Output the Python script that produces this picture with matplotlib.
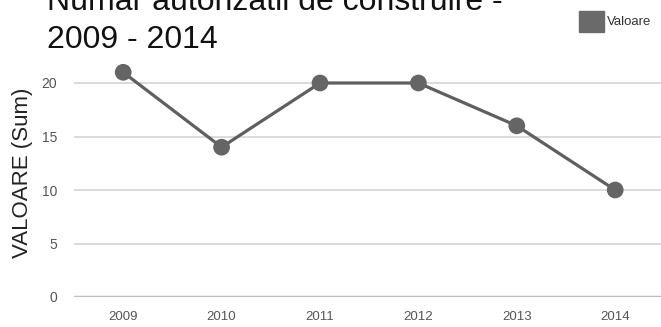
import numpy as np
import matplotlib
matplotlib.use('Agg')
import matplotlib.pyplot as plt
from matplotlib.patches import Rectangle

years = ['2009', '2010', '2011', '2012', '2013', '2014']
values = [21, 14, 20, 20, 16, 10]
y_ticks = [0, 5, 10, 15, 20]

W, H = 661, 327
fig = plt.figure(figsize=(W / 100, H / 100), dpi=100)

# axes box in pixel coordinates
left, right = 74, 661
bottom, top = 297, 62
ax = fig.add_axes([left / W, 1 - bottom / H, (right - left) / W, (bottom - top) / H])

x = np.arange(len(years))
step = 98.4
ax.set_xlim(-0.5, -0.5 + (right - left) / step)
ax.set_ylim(0, 5 * (bottom - top) / 53.5)

for t in y_ticks:
    if t == 0:
        ax.axhline(t, color='#bdbdbd', lw=2.5, zorder=1)
    else:
        ax.axhline(t, color='#d4d4d4', lw=1.2, zorder=1)

ax.plot(x, values, color='#5f5f5f', lw=2.3, zorder=2)
ax.scatter(x, values, s=145, color='#656565', zorder=3, edgecolors='none')

ax.set_xticks(x)
ax.set_xticklabels(years)
ax.set_yticks(y_ticks)
ax.tick_params(length=0, labelsize=10, labelcolor='#555555')
for lab in ax.get_xticklabels() + ax.get_yticklabels():
    lab.set_family('Liberation Sans')
ax.tick_params(axis='x', labelsize=9.5, pad=10)
ax.tick_params(axis='y', pad=12)
for s in ax.spines.values():
    s.set_visible(False)

ax.set_ylabel('VALOARE (Sum)', fontsize=16, family='Liberation Sans', color='#222222')
ax.yaxis.set_label_coords(-(left - 33) / (right - left), (bottom - 173) / (bottom - top),
                          transform=ax.transAxes)

fig.text(47 / W, 1 - 10 / H, 'Numar autorizatii de construire -', fontsize=23,
         family='Liberation Sans', color='#111111', ha='left', va='baseline')
fig.text(47 / W, 1 - 48 / H, '2009 - 2014', fontsize=23,
         family='Liberation Sans', color='#111111', ha='left', va='baseline')

# legend
fig.patches.append(Rectangle((579 / W, 1 - 32 / H), 25 / W, 21 / H,
                             transform=fig.transFigure, color='#6a6a6a', figure=fig))
fig.text(607 / W, 1 - 22 / H, 'Valoare', fontsize=9.5, family='Liberation Sans',
         color='#333333', va='center', ha='left')

fig.savefig('out.png', dpi=100, facecolor='white')
